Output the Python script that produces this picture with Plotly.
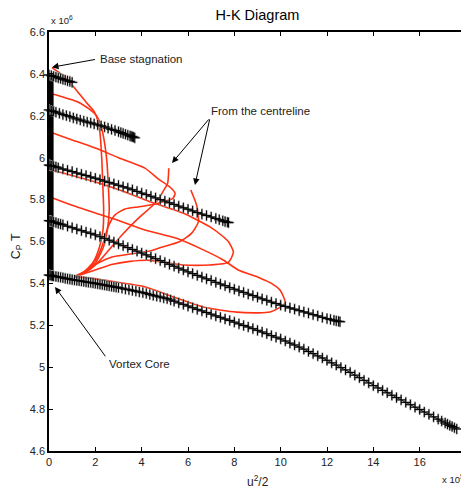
import plotly.graph_objects as go

# ---------------- data (u^2/2 in units of 1e5, CpT in units of 1e6) ----------------
l1_x = [0.0, 0.1, 0.2, 0.3, 0.4, 0.5, 0.6, 0.7, 0.8, 0.9, 1.0]
l1_y = [6.395, 6.392, 6.388, 6.385, 6.381, 6.378, 6.374, 6.371, 6.367, 6.364, 6.360]

l2_x = [0, 0.1, 0.2, 0.3, 0.45, 0.6, 0.75, 0.9, 1.05, 1.2, 1.35, 1.5, 1.65, 1.8, 1.95, 2.1,
        2.25, 2.4, 2.55, 2.7, 2.85, 3.0, 3.1, 3.2, 3.3, 3.4, 3.5, 3.55, 3.6, 3.65, 3.7]
l2_y = [6.228, 6.224, 6.221, 6.217, 6.212, 6.206, 6.201, 6.196, 6.190, 6.185, 6.180, 6.175,
        6.170, 6.166, 6.161, 6.157, 6.152, 6.147, 6.141, 6.135, 6.130, 6.124, 6.120, 6.116,
        6.112, 6.108, 6.104, 6.102, 6.100, 6.098, 6.095]

l3_x = [0, 0.05, 0.1, 0.2, 0.3, 0.4, 0.6, 0.8, 1.0, 1.2, 1.4, 1.6, 1.8, 2.0, 2.2, 2.4, 2.6,
        2.8, 3.0, 3.2, 3.4, 3.6, 3.8, 4.0, 4.2, 4.4, 4.6, 4.8, 5.0, 5.2, 5.4, 5.6, 5.8, 6.0,
        6.2, 6.4, 6.6, 6.8, 7.0, 7.2, 7.35, 7.5, 7.6, 7.7, 7.75]
l3_y = [5.965, 5.963, 5.962, 5.959, 5.956, 5.952, 5.946, 5.940, 5.934, 5.927, 5.921, 5.915,
        5.908, 5.902, 5.895, 5.888, 5.882, 5.875, 5.868, 5.861, 5.855, 5.847, 5.839, 5.831,
        5.824, 5.816, 5.808, 5.800, 5.793, 5.785, 5.777, 5.769, 5.761, 5.754, 5.746, 5.738,
        5.731, 5.724, 5.717, 5.710, 5.704, 5.699, 5.695, 5.692, 5.690]

l4_x = [0, 0.05, 0.1, 0.2, 0.3, 0.4, 0.5, 0.6, 0.8, 1.0, 1.2, 1.4, 1.6, 1.8, 2.0, 2.2, 2.4,
        2.6, 2.8, 3.0, 3.2, 3.4, 3.6, 3.8, 4.0, 4.2, 4.4, 4.6, 4.8, 5.0, 5.2, 5.4, 5.6, 5.8,
        6.0, 6.2, 6.4, 6.6, 6.8, 7.0, 7.2, 7.4, 7.6, 7.8, 8.0, 8.2, 8.4, 8.6, 8.8, 9.0, 9.2,
        9.4, 9.6, 9.8, 10.0, 10.2, 10.4, 10.6, 10.8, 11.0, 11.2, 11.4, 11.6, 11.8, 12.0,
        12.15, 12.3, 12.4, 12.5, 12.56]
l4_y = [5.700, 5.698, 5.697, 5.693, 5.690, 5.686, 5.683, 5.680, 5.673, 5.666, 5.659, 5.652,
        5.645, 5.639, 5.632, 5.623, 5.615, 5.606, 5.597, 5.589, 5.580, 5.571, 5.562, 5.554,
        5.545, 5.536, 5.527, 5.518, 5.509, 5.500, 5.491, 5.482, 5.473, 5.464, 5.455, 5.447,
        5.438, 5.430, 5.422, 5.414, 5.405, 5.397, 5.389, 5.380, 5.372, 5.364, 5.357, 5.349,
        5.342, 5.334, 5.326, 5.319, 5.311, 5.304, 5.296, 5.290, 5.283, 5.277, 5.270, 5.264,
        5.258, 5.251, 5.245, 5.238, 5.232, 5.228, 5.224, 5.221, 5.219, 5.217]

l5_x = [0, 0.05, 0.1, 0.15, 0.2, 0.3, 0.4, 0.5, 0.6, 0.7, 0.8, 0.9, 1.0, 1.1, 1.2, 1.3, 1.4,
        1.5, 1.6, 1.7, 1.8, 1.9, 2.0, 2.1, 2.2, 2.3, 2.4, 2.5, 2.6, 2.7, 2.8, 2.9, 3.0, 3.15,
        3.3, 3.45, 3.6, 3.75, 3.9, 4.05, 4.2, 4.35, 4.5, 4.65, 4.8, 4.95, 5.1, 5.25, 5.4, 5.6,
        5.8, 6.0, 6.2, 6.4, 6.6, 6.8, 7.0, 7.2, 7.4, 7.6, 7.8, 8.0, 8.2, 8.4, 8.6, 8.8, 9.0,
        9.2, 9.4, 9.6, 9.8, 10.0, 10.2, 10.4, 10.6, 10.8, 11.0, 11.2, 11.4, 11.6, 11.8, 12.0,
        12.2, 12.4, 12.6, 12.8, 13.0, 13.2, 13.4, 13.6, 13.8, 14.0, 14.2, 14.4, 14.6, 14.8,
        15.0, 15.2, 15.4, 15.6, 15.8, 16.0, 16.2, 16.4, 16.6, 16.8, 16.95, 17.1, 17.2, 17.3,
        17.4, 17.5, 17.6]
l5_y = [5.440, 5.439, 5.437, 5.436, 5.435, 5.433, 5.431, 5.429, 5.427, 5.424, 5.422, 5.420,
        5.418, 5.416, 5.414, 5.413, 5.411, 5.409, 5.407, 5.405, 5.404, 5.402, 5.400, 5.398,
        5.396, 5.394, 5.392, 5.390, 5.388, 5.386, 5.384, 5.382, 5.380, 5.377, 5.373, 5.370,
        5.366, 5.363, 5.359, 5.356, 5.352, 5.347, 5.343, 5.339, 5.335, 5.331, 5.327, 5.321,
        5.315, 5.307, 5.300, 5.292, 5.284, 5.276, 5.269, 5.261, 5.253, 5.245, 5.238, 5.230,
        5.223, 5.215, 5.207, 5.199, 5.192, 5.184, 5.176, 5.168, 5.160, 5.151, 5.143, 5.135,
        5.125, 5.115, 5.106, 5.096, 5.086, 5.075, 5.065, 5.054, 5.044, 5.033, 5.021, 5.010,
        4.998, 4.987, 4.975, 4.962, 4.950, 4.937, 4.925, 4.912, 4.901, 4.889, 4.878, 4.866,
        4.855, 4.844, 4.832, 4.821, 4.809, 4.798, 4.786, 4.775, 4.763, 4.752, 4.743, 4.734,
        4.728, 4.722, 4.717, 4.711, 4.705]

# wall (u ~ 0) between vortex core and base stagnation
wall_x = [0.08, 0.08]
wall_y = [5.43, 6.40]

# red curves
s_x = [0.13, 0.69, 1.2, 1.64, 1.95, 2.1, 2.2, 2.28, 2.33, 2.36, 2.33, 2.18, 1.9, 1.5, 1.1]
s_y = [6.43, 6.385, 6.32, 6.26, 6.22, 6.18, 6.118, 5.99, 5.846, 5.75, 5.655, 5.574, 5.50, 5.455, 5.432]

r1_x = [0.1, 0.6, 1.25, 1.7, 2.05, 2.25, 2.4, 2.5, 2.57, 2.6, 2.52, 2.35, 2.0, 1.6, 1.1]
r1_y = [6.305, 6.29, 6.266, 6.235, 6.20, 6.15, 6.07, 5.98, 5.846, 5.75, 5.655, 5.574, 5.497, 5.455, 5.432]

r2_x = [0.1, 1.0, 2.0, 3.0, 4.14, 4.7, 5.22, 5.44, 5.35, 4.93, 4.36, 3.84, 3.28, 2.85, 2.55,
        2.3, 2.0, 1.6, 1.1]
r2_y = [6.12, 6.085, 6.046, 6.0, 5.95, 5.90, 5.86, 5.83, 5.806, 5.79, 5.774, 5.765, 5.755,
        5.727, 5.67, 5.58, 5.51, 5.46, 5.432]

c1_x = [5.17, 5.12, 4.93, 4.79, 4.5, 3.85, 3.14, 2.77, 2.2, 1.68, 1.1]
c1_y = [5.95, 5.878, 5.84, 5.814, 5.774, 5.71, 5.63, 5.583, 5.51, 5.46, 5.432]

c2_x = [6.12, 6.37, 6.45, 6.16, 5.65, 4.79, 4.36, 3.5, 2.72, 2.0, 1.5, 1.1]
c2_y = [5.846, 5.774, 5.695, 5.64, 5.60, 5.57, 5.555, 5.54, 5.526, 5.49, 5.455, 5.432]

rb_x = [0.1, 1.0, 2.0, 3.2, 4.36, 5.8, 6.95, 7.5, 7.74, 7.96, 7.74, 6.95, 5.8, 4.36, 3.5,
        2.7, 1.9, 1.1]
rb_y = [5.94, 5.915, 5.884, 5.84, 5.79, 5.735, 5.67, 5.625, 5.60, 5.55, 5.50, 5.488, 5.488,
        5.51, 5.505, 5.49, 5.46, 5.432]

r3_x = [0.1, 1.0, 2.0, 3.0, 4.14, 5.5, 6.66, 7.52, 8.17, 9.1, 9.6, 9.97, 10.19, 9.54, 8.1,
        6.65, 5.5, 4.1, 2.7, 1.8, 1.1]
r3_y = [5.81, 5.773, 5.736, 5.70, 5.655, 5.615, 5.56, 5.512, 5.464, 5.426, 5.40, 5.368,
        5.306, 5.263, 5.263, 5.287, 5.33, 5.385, 5.41, 5.425, 5.432]

x_ticks = [0, 2, 4, 6, 8, 10, 12, 14, 16, 18]
x_tick_text = ["0", "2", "4", "6", "8", "10", "12", "14", "16", "18"]
y_ticks = [4.6, 4.8, 5.0, 5.2, 5.4, 5.6, 5.8, 6.0, 6.2, 6.4, 6.6]
y_tick_text = ["4.6", "4.8", "5", "5.2", "5.4", "5.6", "5.8", "6", "6.2", "6.4", "6.6"]

# annotation anchor points (tip, tail) in data units
stag_tip, stag_tail = (0.13, 6.432), (2.05, 6.47)
core_tip, core_tail = (0.26, 5.383), (2.48, 5.045)
cl_tail = (6.95, 6.19)
cl_tip1, cl_tip2 = (5.31, 5.975), (6.3, 5.87)

# ---------------- figure ----------------
RED = "#ff3214"
FONT = "Liberation Sans, Arial, sans-serif"

fig = go.Figure()

for xs, ys in [(s_x, s_y), (r1_x, r1_y), (r2_x, r2_y), (c1_x, c1_y), (c2_x, c2_y),
               (rb_x, rb_y), (r3_x, r3_y)]:
    fig.add_trace(go.Scatter(x=xs, y=ys, mode="lines",
                             line=dict(color=RED, width=1.6, shape="spline", smoothing=0.6),
                             hoverinfo="skip"))

fig.add_trace(go.Scatter(x=wall_x, y=wall_y, mode="lines", line=dict(color="black", width=5.5)))

for xs, ys in [(l1_x, l1_y), (l2_x, l2_y), (l3_x, l3_y), (l4_x, l4_y), (l5_x, l5_y)]:
    fig.add_trace(go.Scatter(x=xs, y=ys, mode="markers", cliponaxis=False,
                             marker=dict(symbol="cross-thin", size=8, color="#a0a0a0",
                                         line=dict(width=1.8, color="#a0a0a0"))))
    fig.add_trace(go.Scatter(x=xs, y=ys, mode="lines+markers", cliponaxis=False,
                             line=dict(color="black", width=0.9),
                             marker=dict(symbol="cross-thin", size=7, color="black",
                                         line=dict(width=1.0, color="black"))))

ann = []
def arrow(tip, tail):
    return dict(x=tip[0], y=tip[1], ax=tail[0], ay=tail[1], xref="x", yref="y",
                axref="x", ayref="y", text="", showarrow=True, arrowhead=2,
                arrowsize=1.3, arrowwidth=1, arrowcolor="black", standoff=0, startstandoff=0)

ann.append(arrow(stag_tip, stag_tail))
ann.append(arrow(core_tip, core_tail))
ann.append(arrow(cl_tip1, cl_tail))
ann.append(arrow(cl_tip2, cl_tail))

txt = dict(font=dict(family=FONT, size=11.5, color="#222"), showarrow=False, xref="x", yref="y",
           xanchor="left", yanchor="middle")
ann.append(dict(text="Base stagnation", x=2.1, y=6.47, **txt))
ann.append(dict(text="From the centreline", x=6.9, y=6.225, **txt))
ann.append(dict(text="Vortex Core", x=2.5, y=5.015, **txt))

ann.append(dict(text="x 10<sup>6</sup>", x=0, y=1.0, xref="paper", yref="paper", xanchor="left",
                yanchor="bottom", yshift=4, showarrow=False,
                font=dict(family=FONT, size=9.5, color="#222")))
ann.append(dict(text="x 10<sup>5</sup>", x=1.0, y=0, xref="paper", yref="paper", xanchor="right",
                yanchor="top", yshift=-20, showarrow=False,
                font=dict(family=FONT, size=9.5, color="#222")))
ann.append(dict(text="u<sup>2</sup>/2", x=0.5, y=0, xref="paper", yref="paper", xanchor="center",
                yanchor="top", yshift=-20, showarrow=False,
                font=dict(family=FONT, size=12, color="#222")))
ann.append(dict(text="C<sub>P</sub> T", x=-0.078, y=0.49, xref="paper", yref="paper",
                xanchor="center", yanchor="middle", textangle=-90, showarrow=False,
                font=dict(family=FONT, size=12.5, color="#222")))

# the page body adds an 8 px margin, so the figure is sized to fill the rest of the window
fig.update_layout(
    width=461, height=480,
    margin=dict(l=41, r=3, t=24, b=37),
    paper_bgcolor="white", plot_bgcolor="white",
    showlegend=False,
    title=dict(text="H-K Diagram", x=0.5, xref="paper", y=0.985, yref="container",
               yanchor="middle", font=dict(family=FONT, size=14.5, color="black")),
    annotations=ann,
    font=dict(family=FONT, size=11, color="#222"),
)
fig.update_xaxes(range=[0, 18], tickvals=x_ticks, ticktext=x_tick_text, ticks="inside", ticklen=4,
                 tickcolor="black", showline=True, linecolor="black", linewidth=1.5, mirror="ticks",
                 showgrid=False, zeroline=False, automargin=False,
                 tickfont=dict(family=FONT, size=11, color="#222"))
fig.update_yaxes(range=[4.6, 6.6], tickvals=y_ticks, ticktext=y_tick_text, ticks="inside", ticklen=4,
                 tickcolor="black", showline=True, linecolor="black", linewidth=1.5, mirror="ticks",
                 showgrid=False, zeroline=False, automargin=False,
                 tickfont=dict(family=FONT, size=11, color="#222"))

fig.write_html("out.html")
